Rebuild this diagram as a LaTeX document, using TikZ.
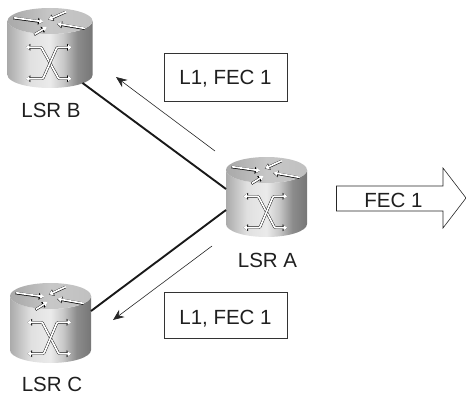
\documentclass[tikz,border=0pt]{standalone}
\usepackage{fontspec}
\setmainfont{Liberation Sans}
\usetikzlibrary{arrows.meta}
\pgfdeclarehorizontalshading{rbody}{100bp}{
  color(0bp)=(black!42); color(22bp)=(black!38); color(38bp)=(black!12); color(50bp)=(black!8);
  color(58bp)=(black!22); color(66bp)=(black!45); color(100bp)=(black!78)}
\pgfdeclarehorizontalshading{rtop}{100bp}{
  color(0bp)=(black!40); color(30bp)=(black!32); color(50bp)=(black!22); color(70bp)=(black!24); color(100bp)=(black!30)}
\tikzset{
  every node/.style={font=\fontsize{20.5}{24}\selectfont, text=black!88},
  x=1pt, y=1pt,
  lbl/.style={anchor=base, inner sep=0pt},
  lblbox/.style={draw=black!80, line width=0.9pt, anchor=base, inner sep=0pt, minimum width=123pt, fill=white},
  thick link/.style={line width=1.9pt, black!90},
  thin link/.style={line width=0.6pt, black!85, -{Stealth[length=11pt,width=9pt]}},
  wa out/.style={line width=2.5pt, black},
  wa in/.style={line width=1.7pt, white},
  router/.pic={
    \path[shading=rbody] (-40.5,-13) -- (-40.5,-67) arc[start angle=180,end angle=360,x radius=40.5,y radius=13] -- (40.5,-13) arc[start angle=0,end angle=-180,x radius=40.5,y radius=13] -- cycle;
    \path[shading=rtop] (0,-13) ellipse[x radius=40.5,y radius=13];
    \foreach \p/\q in {{(-35,-10)}/{(-6.7,-14)},{(15,-4)}/{(-1.7,-11.7)},{(33,-20.7)}/{(6.7,-16)},{(-15,-26.7)}/{(-3.3,-19.3)}}{
      \draw[wa out,-{Triangle[length=5pt,width=6.5pt]}] \p -- \q;
      \draw[wa in,shift={(0.3,0.3)},-{Triangle[length=4pt,width=5pt]}] \p -- \q;
    }
    \foreach \a/\b/\c/\d in {{(-23,-39.3)}/{(-8.3,-39.3)}/{(8.3,-70.7)}/{(20.7,-70.7)},{(20.7,-39.3)}/{(6.7,-39.3)}/{(-6.7,-70.7)}/{(-23,-70.7)}}{
      \draw[wa out,{Triangle[length=4.5pt,width=6.5pt]}-{Triangle[length=4.5pt,width=6.5pt]},rounded corners=1pt] \a -- \b -- \c -- \d;
      \draw[wa in,{Triangle[length=3.5pt,width=5pt]}-{Triangle[length=3.5pt,width=5pt]},rounded corners=1pt] \a -- \b -- \c -- \d;
    }
    \coordinate (-w1) at (-40.5,-32);
    \coordinate (-w2) at (-40.5,-53);
    \coordinate (-se) at (31,-75);
    \coordinate (-e) at (40.5,-28);
  }
}
\begin{document}
\begin{tikzpicture}
\useasboundingbox (0,0) rectangle (466,392);
\pic (A) at (266.5,235) {router};
\pic (B) [xscale=1.05] at (50,384) {router};
\pic (C) at (50.5,109) {router};
\node[lbl] (la) at (267.5,125) {LSR A};
\node[lbl] (lb) at (51,275) {LSR B};
\node[lbl] (lc) at (52,1) {LSR C};
\draw[thick link] (B-se) -- (A-w1);
\draw[thick link] (A-w2) -- (C-e);
\coordinate (t1s) at (215,241);
\coordinate (t1e) at (116,315);
\coordinate (t2s) at (212,146);
\coordinate (t2e) at (113,72);
\draw[thin link] (t1s) -- (t1e);
\draw[thin link] (t2s) -- (t2e);
\node[lblbox, text height=31pt, text depth=17pt] (box1) at (225.5,308) {L1, FEC 1};
\node[lblbox, text height=32pt, text depth=14pt] (box2) at (225.5,68) {L1, FEC 1};
\draw[line width=0.6pt, black!85, line join=miter] (336.5,206) -- (443,206) -- (443,224) -- (466,194) -- (443,164) -- (443,181) -- (336.5,181) -- cycle;
\node[lbl] (fec) at (393.5,185) {FEC 1};
\end{tikzpicture}
\end{document}
